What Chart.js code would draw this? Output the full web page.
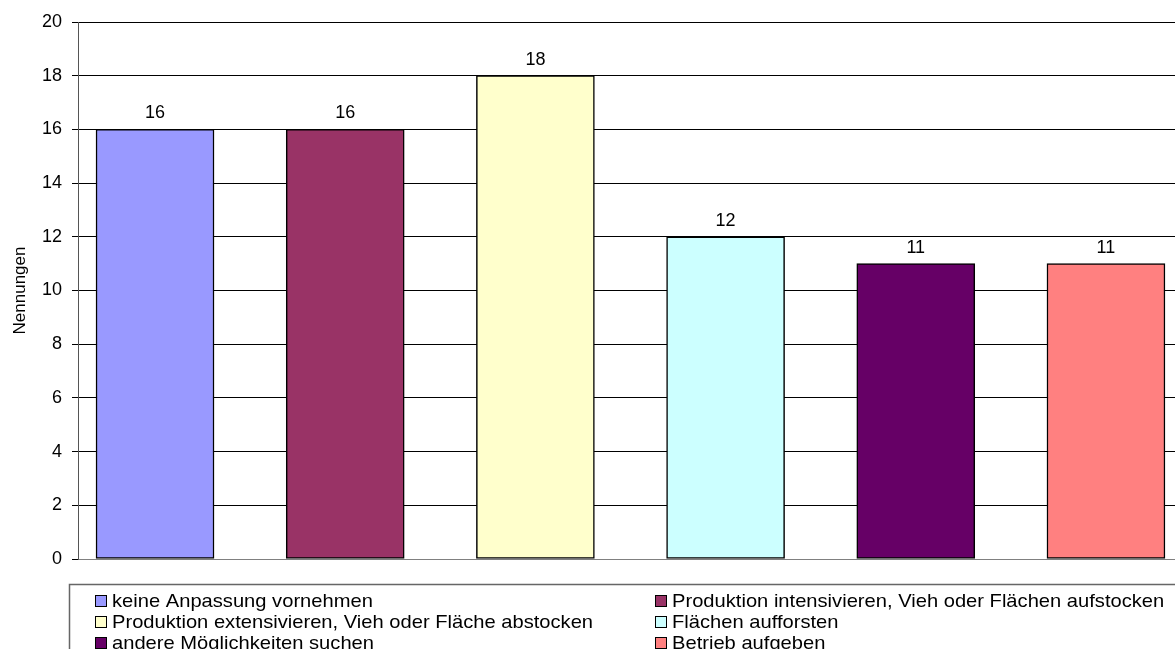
<!DOCTYPE html>
<html>
<head>
<meta charset="utf-8">
<title>Nennungen</title>
<script src="https://cdn.jsdelivr.net/npm/chart.js@4/dist/chart.umd.min.js"></script>
<style>
  html, body { margin: 0; padding: 0; background: #fff; }
  #wrap { width: 1175px; height: 649px; position: relative; overflow: hidden; }
</style>
</head>
<body>
<div id="wrap"><canvas id="chart"></canvas></div>
<script>
// data
const categories = [
  'keine Anpassung vornehmen',
  'Produktion intensivieren, Vieh oder Flächen aufstocken',
  'Produktion extensivieren, Vieh oder Fläche abstocken',
  'Flächen aufforsten',
  'andere Möglichkeiten suchen',
  'Betrieb aufgeben'
];
const nennungen = [16, 16, 18, 12, 11, 11];
const barColors = ['#9999FF', '#993366', '#FFFFCC', '#CCFFFF', '#660066', '#FF8080'];
const yTickValues = [0, 2, 4, 6, 8, 10, 12, 14, 16, 18, 20];

const FONT = "'Liberation Sans', Arial, sans-serif";

// value labels above each bar
const valueLabels = {
  id: 'valueLabels',
  afterDatasetsDraw(chart) {
    const ctx = chart.ctx;
    const meta = chart.getDatasetMeta(0);
    ctx.save();
    ctx.font = '18px ' + FONT;
    ctx.fillStyle = '#000';
    ctx.textAlign = 'center';
    ctx.textBaseline = 'alphabetic';
    meta.data.forEach((bar, i) => {
      ctx.fillText(String(nennungen[i]), bar.x, bar.y - 11);
    });
    ctx.restore();
  }
};

// excel style legend box, two columns
const boxLegend = {
  id: 'boxLegend',
  afterDraw(chart) {
    const ctx = chart.ctx;
    const area = chart.chartArea;
    const top = area.bottom + 25;
    const colX = [95, 655];
    const rowH = 21;
    ctx.save();
    ctx.strokeStyle = '#666';
    ctx.lineWidth = 1.5;
    ctx.strokeRect(69.5, top + 0.5, 1200, 120);
    ctx.lineWidth = 1;
    ctx.font = '19px ' + FONT;
    ctx.textBaseline = 'middle';
    ctx.textAlign = 'left';
    categories.forEach((label, i) => {
      const x = colX[i % 2];
      const y = top + 17 + Math.floor(i / 2) * rowH;
      ctx.fillStyle = barColors[i];
      ctx.fillRect(x + 0.5, y - 5.5, 11, 11);
      ctx.strokeStyle = '#000';
      ctx.strokeRect(x + 0.5, y - 5.5, 11, 11);
      ctx.fillStyle = '#000';
      // the original text is slightly wider than the font
      ctx.save();
      ctx.translate(x + 17, y + 1);
      ctx.scale(1.06, 1);
      ctx.fillText(label, 0, 0);
      ctx.restore();
    });
    ctx.restore();
  }
};

const chartConfig = {
  type: 'bar',
  data: {
    datasets: [{
      data: categories.map((c, i) => ({ x: i, y: nennungen[i] })),
      backgroundColor: barColors,
      borderColor: '#000',
      borderWidth: 1.5,
      borderSkipped: false,
      barThickness: 118
    }]
  },
  options: {
    responsive: true,
    maintainAspectRatio: false,
    animation: false,
    layout: {
      padding: { top: 22, right: 0, bottom: 90, left: 0 }
    },
    scales: {
      x: {
        type: 'linear',
        display: false,
        offset: false,
        min: -0.405,
        max: 5.363
      },
      y: {
        min: 0,
        max: 20,
        afterBuildTicks: scale => {
          scale.ticks = yTickValues.map(v => ({ value: v }));
        },
        afterFit: scale => { scale.width = 78; },
        border: { color: '#555', width: 1 },
        grid: {
          color: ctx => (ctx.tick && ctx.tick.value === 0) ? '#808080' : '#000',
          tickColor: '#000',
          tickLength: 6,
          lineWidth: 1
        },
        ticks: {
          color: '#000',
          padding: 10,
          font: { family: FONT, size: 18 }
        },
        title: {
          display: true,
          text: 'Nennungen',
          color: '#000',
          padding: { top: 10, bottom: 0 },
          font: { family: FONT, size: 17 }
        }
      }
    },
    plugins: {
      legend: { display: false },
      tooltip: { enabled: false }
    }
  },
  plugins: [valueLabels, boxLegend]
};

new Chart(document.getElementById('chart'), chartConfig);
</script>
</body>
</html>
